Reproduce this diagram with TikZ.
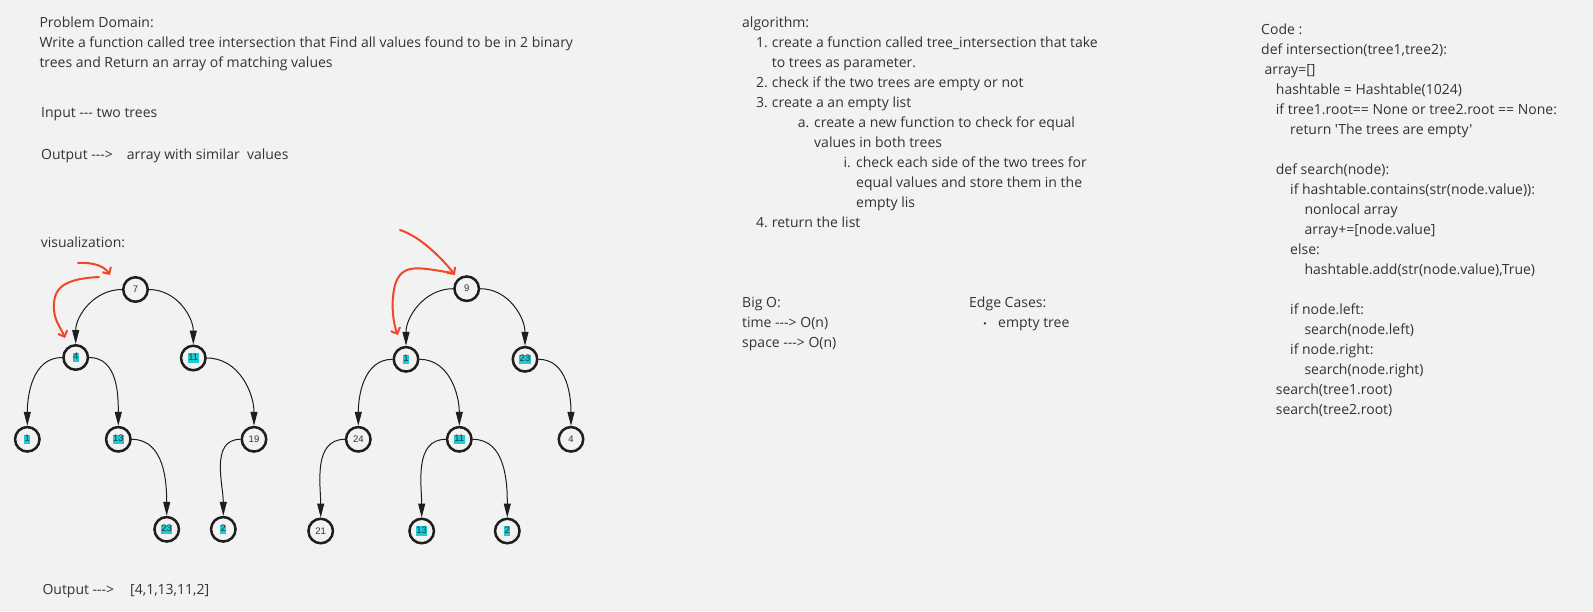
\documentclass[tikz,border=0pt]{standalone}
\usepackage{fontspec}
\setmainfont{Open Sans}[Ligatures=TeXOff]
\newfontfamily\digitfont{Liberation Sans}
\usetikzlibrary{arrows.meta}

\definecolor{bgc}{RGB}{242,242,242}
\definecolor{textc}{RGB}{51,51,51}
\definecolor{linec}{RGB}{30,30,30}
\definecolor{hlc}{RGB}{23,205,215}
\definecolor{redc}{RGB}{242,71,38}

\newcommand{\hlnum}[1]{{\setlength{\fboxsep}{0.5pt}\colorbox{hlc}{\vphantom{Ag}#1}}}

\begin{document}
\begin{tikzpicture}[x=1pt, y=-1pt,
  txt/.style={anchor=base west, inner sep=0pt, text=textc, font=\fontsize{14}{20}\selectfont},
  tnode/.style={circle, draw=linec, line width=2.5pt, minimum size=24.5pt, inner sep=0pt, text=textc, font=\digitfont\fontsize{9.5}{10}\selectfont},
  link/.style={-{Triangle[length=14pt,width=7pt]}, line width=1pt, draw=linec},
  redarr/.style={-{Straight Barb[length=5pt,width=10pt]}, line width=2pt, draw=redc, line cap=round}]

\fill[bgc] (0,0) rectangle (1593,611);
\useasboundingbox (0,0) rectangle (1593,611);

% problem domain
\path (39.3,27.3) node[txt] (pd) {Problem Domain:}
      (39.3,47.3) node[txt] (pd1) {Write a function called tree intersection that Find all values found to be in 2 binary}
      (39.3,67.3) node[txt] (pd2) {trees and Return an array of matching values}
      (41,117) node[txt] (inp) {Input --- two trees}
      (41,159) node[txt] (outp) {Output --->\hspace{14pt}array with similar\ \ values}
      (40.6,247) node[txt] (vis) {visualization:}
      (42.3,594) node[txt] (res) {Output --->\hspace{16pt}[4,1,13,11,2]};

% algorithm
\path (742,27.3) node[txt] (alg) {algorithm:}
      (756,47.3) node[txt] (n1) {1.}
      (771.7,47.3) node[txt] (s1a) {create a function called tree\_intersection that take}
      (771.7,67.3) node[txt] (s1b) {to trees as parameter.}
      (756,87.3) node[txt] (n2) {2.}
      (771.7,87.3) node[txt] (s2) {check if the two trees are empty or not}
      (756,107.3) node[txt] (n3) {3.}
      (771.7,107.3) node[txt] (s3) {create a an empty list}
      (797.7,127.3) node[txt] (na) {a.}
      (814,127.3) node[txt] (sa1) {create a new function to check for equal}
      (814,147.3) node[txt] (sa2) {values in both trees}
      (843.3,167.3) node[txt] (ni) {i.}
      (856,167.3) node[txt] (si1) {check each side of the two trees for}
      (856,187.3) node[txt] (si2) {equal values and store them in the}
      (856,207.3) node[txt] (si3) {empty lis}
      (756,227.3) node[txt] (n4) {4.}
      (771.7,227.3) node[txt] (s4) {return the list};

% big o and edge cases
\path (742,307) node[txt] (bigo) {Big O:}
      (742,327) node[txt] (tim) {time ---> O(n)}
      (742,347) node[txt] (spc) {space ---> O(n)}
      (969,307) node[txt] (edg) {Edge Cases:}
      (983,327) node[txt, font=\fontsize{10}{20}\selectfont] (bul) {•}
      (998,327) node[txt] (emp) {empty tree};

% code
\path (1261,34) node[txt] (c0) {Code :}
      (1261,54) node[txt] (c1) {def intersection(tree1,tree2):}
      (1264.3,74) node[txt] (c2) {array=[]}
      (1275.7,94) node[txt] (c3) {hashtable = Hashtable(1024)}
      (1275.7,114) node[txt] (c4) {if tree1.root== None or tree2.root == None:}
      (1290,134) node[txt] (c5) {return 'The trees are empty'}
      (1275.7,174) node[txt] (c6) {def search(node):}
      (1290,194) node[txt] (c7) {if hashtable.contains(str(node.value)):}
      (1304.3,214) node[txt] (c8) {nonlocal array}
      (1304.3,234) node[txt] (c9) {array+=[node.value]}
      (1290,254) node[txt] (c10) {else:}
      (1304.3,274) node[txt] (c11) {hashtable.add(str(node.value),True)}
      (1290,314) node[txt] (c12) {if node.left:}
      (1304.3,334) node[txt] (c13) {search(node.left)}
      (1290,354) node[txt] (c14) {if node.right:}
      (1304.3,374) node[txt] (c15) {search(node.right)}
      (1275.7,394) node[txt] (c16) {search(tree1.root)}
      (1275.7,414) node[txt] (c17) {search(tree2.root)};

% first tree
\path (135.5,289.5) node[tnode] (a7) {7}
      (75.7,357.5) node[tnode] (a4) {\hlnum{4}}
      (193.3,358) node[tnode] (a11) {\hlnum{11}}
      (27.3,439.3) node[tnode] (a1) {\hlnum{1}}
      (118.3,439.3) node[tnode] (a13) {\hlnum{13}}
      (254,439.3) node[tnode] (a19) {19}
      (166.7,529.3) node[tnode] (a23) {\hlnum{23}}
      (223.3,529.3) node[tnode] (a2) {\hlnum{2}};

\draw[link] (a7.west) to[out=180, in=90] (a4.north);
\draw[link] (a7.east) to[out=0, in=90] (a11.north);
\draw[link] (a4.west) to[out=180, in=90] (a1.north);
\draw[link] (a4.east) to[out=0, in=90] (a13.north);
\draw[link] (a11.east) to[out=0, in=90] (a19.north);
\draw[link] (a13.east) to[out=0, in=90] (a23.north);
\draw[link] (a19.west) to[out=180, in=90] (a2.north);

% second tree
\path (466.7,288.7) node[tnode] (b9) {9}
      (406,359.3) node[tnode] (b1) {\hlnum{1}}
      (525,359.3) node[tnode] (b23) {\hlnum{23}}
      (358.3,439.3) node[tnode] (b24) {24}
      (459.3,439.3) node[tnode] (b11) {\hlnum{11}}
      (571,439.3) node[tnode] (b4) {4}
      (320.7,531) node[tnode] (b21) {21}
      (421.7,531) node[tnode] (b13) {\hlnum{13}}
      (507.3,531) node[tnode] (b2) {\hlnum{2}};

\draw[link] (b9.west) to[out=180, in=90] (b1.north);
\draw[link] (b9.east) to[out=0, in=90] (b23.north);
\draw[link] (b1.west) to[out=180, in=90] (b24.north);
\draw[link] (b1.east) to[out=0, in=90] (b11.north);
\draw[link] (b23.east) to[out=0, in=90] (b4.north);
\draw[link] (b24.west) to[out=180, in=90] (b21.north);
\draw[link] (b11.west) to[out=180, in=90] (b13.north);
\draw[link] (b11.east) to[out=0, in=90] (b2.north);

% red hints
\coordinate (p1) at (78,263);
\coordinate (p1e) at (110,275);
\coordinate (p2) at (99,277);
\coordinate (p2e) at (65,338);
\coordinate (q1) at (400,230);
\coordinate (q1e) at (455,275);
\coordinate (q2) at (453,273);
\coordinate (q2e) at (398,335);
\draw[redarr] (p1) .. controls (95,262) and (105,267) .. (p1e);
\draw[redarr] (p2) .. controls (60,279) and (53,290) .. (54,310) .. controls (55,322) and (61,328) .. (p2e);
\draw[redarr] (q1) .. controls (422,237) and (445,262) .. (q1e);
\draw[redarr] (q2) .. controls (420,268) and (402,262) .. (395,285) .. controls (390,305) and (394,326) .. (q2e);
\end{tikzpicture}
\end{document}
